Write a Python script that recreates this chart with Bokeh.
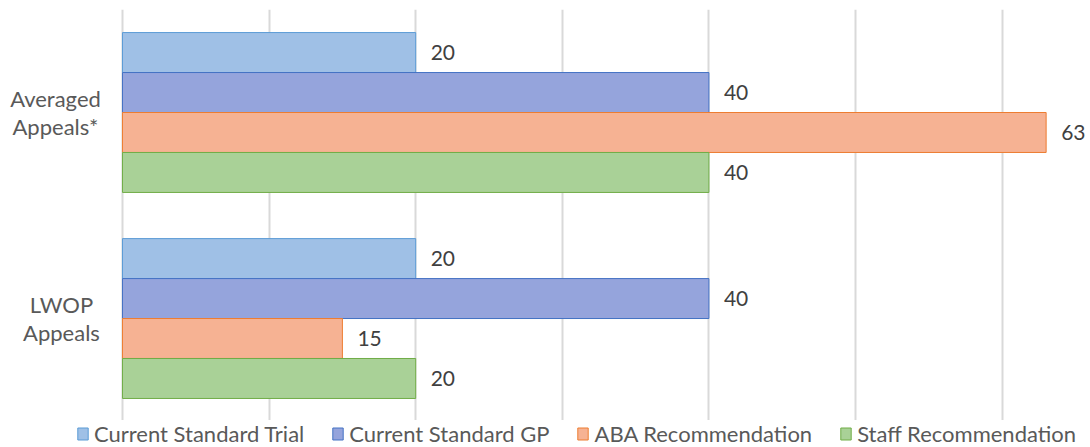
from bokeh.plotting import figure
from bokeh.models import ColumnDataSource, LabelSet, Legend, LegendItem, FixedTicker, Range1d, Grid
from bokeh.core.properties import value
from bokeh.embed import file_html
from bokeh.resources import INLINE

categories = ["LWOP\nAppeals", "Averaged\nAppeals*"]
series_names = ["Current Standard Trial", "Current Standard GP", "ABA Recommendation", "Staff Recommendation"]
trial = [20, 20]
gp = [40, 40]
aba = [15, 63]
staff = [20, 40]
x_ticks = [0, 10, 20, 30, 40, 50, 60]

fills = ["#9fc0e6", "#95a4dc", "#f6b293", "#a9d197"]
lines = ["#5b9bd5", "#4472c4", "#ed7d31", "#70ad47"]
offsets = [0.291, 0.097, -0.097, -0.291]
bar_h = 0.194
series = [trial, gp, aba, staff]
cat_pos = list(range(len(categories)))
cat_label_x = [61, 55]  # screen-x centres of the category label blocks
LINE_GAP = 28
FONT = "Lato"

# frame covers the whole canvas; space left of 0 hosts the category labels,
# space below the bars hosts the legend strip
p = figure(frame_width=1088, frame_height=438, x_range=Range1d(-8.32, 65.89), y_range=Range1d(-0.626, 1.5),
           output_backend="svg", toolbar_location=None, x_axis_location=None, y_axis_location=None,
           min_border_left=0, min_border_right=0, min_border_top=9, min_border_bottom=0)
p.outline_line_color = None
p.xgrid.visible = False
p.ygrid.visible = False
p.add_layout(Grid(dimension=0, ticker=FixedTicker(ticks=x_ticks),
                  grid_line_color="#d9d9d9", grid_line_width=2))

renderers = []
for vals, fc, lc, off in zip(series, fills, lines, offsets):
    src = ColumnDataSource(dict(y=[c + off for c in cat_pos], x=vals, t=[str(v) for v in vals]))
    r = p.hbar(y="y", right="x", left=0, height=bar_h, source=src,
               fill_color=fc, line_color=lc, line_width=1)
    renderers.append(r)
    p.add_layout(LabelSet(x="x", y="y", text="t", source=src, x_offset=15,
                          text_baseline="middle", text_align="left",
                          text_font=value(FONT), text_font_size="21px", text_color="#404040"))

# category labels: each line centred separately
lx, ly, lt, loff = [], [], [], []
for cx, cy, name in zip(cat_label_x, cat_pos, categories):
    parts = name.split("\n")
    n = len(parts)
    for i, part in enumerate(parts):
        lx.append(cx)
        ly.append(cy)
        lt.append(part)
        loff.append(((n - 1) / 2 - i) * LINE_GAP)
cat_src = ColumnDataSource(dict(x=lx, y=ly, t=lt, yo=loff))
p.add_layout(LabelSet(x="x", y="y", text="t", y_offset="yo", source=cat_src, x_units="screen",
                      text_align="center", text_baseline="middle",
                      text_font=value(FONT), text_font_size="22px", text_color="#595959"))

legend = Legend(items=[LegendItem(label=n, renderers=[r]) for n, r in zip(series_names, renderers)],
                orientation="horizontal", location=(76, 0),
                label_text_font=FONT, label_text_font_size="22px", label_text_color="#595959",
                label_height=24, glyph_width=13, glyph_height=15, label_standoff=5, spacing=27,
                padding=1, margin=0, border_line_color=None,
                background_fill_color="white", background_fill_alpha=1.0)
p.add_layout(legend)

open("out.html", "w").write(file_html(p, INLINE))
